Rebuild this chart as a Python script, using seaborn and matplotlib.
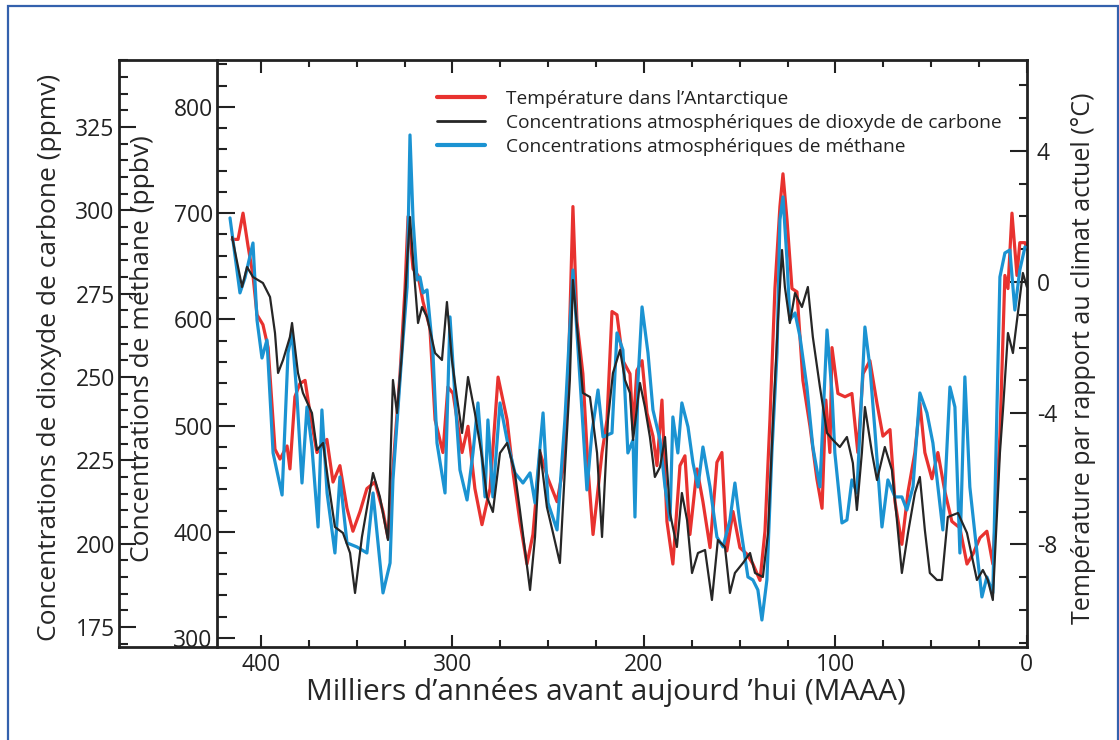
import matplotlib
matplotlib.use("Agg")
import pandas as pd
import seaborn as sns
import matplotlib.pyplot as plt
from matplotlib.lines import Line2D
from matplotlib.patches import Rectangle
from matplotlib.ticker import FixedLocator

# ---- donnees (milliers d'annees avant aujourd'hui) ---- #
age_temp = [415.1, 412.0, 409.4, 406.8, 404.2, 402.1, 399.0, 396.3, 392.7, 390.1,
            386.4, 384.9, 382.3, 379.7, 377.0, 374.4, 370.8, 365.6, 362.4, 358.8,
            355.1, 352.0, 348.3, 344.7, 340.5, 336.3, 333.7, 331.1, 327.4, 324.8,
            323.2, 320.6, 318.0, 315.4, 311.8, 309.1, 305.0, 302.4, 299.7, 295.0,
            291.9, 288.3, 284.6, 280.4, 276.2, 271.5, 268.4, 264.8, 261.1, 258.0,
            254.3, 250.1, 245.4, 242.3, 239.7, 237.1, 235.0, 231.9, 229.2, 226.6,
            221.9, 219.3, 216.7, 214.1, 211.0, 207.3, 205.7, 203.7, 201.0, 198.4,
            195.3, 193.2, 190.6, 188.0, 184.9, 181.2, 178.6, 176.0, 172.3, 169.2,
            165.5, 161.9, 159.3, 156.7, 153.5, 149.9, 146.2, 143.1, 139.4, 136.8,
            134.2, 131.6, 129.0, 127.4, 125.3, 122.7, 120.1, 117.0, 113.3, 109.7,
            107.0, 105.0, 102.9, 101.8, 98.7, 95.0, 91.4, 88.3, 85.6, 82.0,
            78.3, 75.2, 71.5, 68.9, 65.3, 62.1, 58.5, 55.9, 53.3, 49.6,
            46.5, 42.8, 39.2, 35.0, 31.3, 28.2, 24.5, 20.9, 17.8, 14.1,
            11.5, 9.9, 7.8, 5.2, 3.7, 1.0, 0.0]
temp = [1.3, 1.3, 2.1, 1.1, 0.2, -1.0, -1.3, -2.0, -5.1, -5.4,
        -5.0, -5.7, -3.5, -3.1, -3.0, -4.0, -5.2, -4.8, -6.1, -5.6,
        -6.9, -7.6, -7.0, -6.3, -6.1, -7.0, -7.8, -5.7, -2.8, -0.2,
        2.0, 0.4, 0.2, -0.6, -1.4, -4.2, -5.2, -3.2, -3.4, -5.2,
        -4.4, -6.3, -7.4, -6.3, -2.9, -4.2, -5.8, -7.3, -8.6, -7.7,
        -5.2, -6.0, -6.7, -5.7, -3.2, 2.3, -1.2, -2.8, -5.7, -7.7,
        -5.2, -4.2, -0.9, -1.0, -2.4, -2.8, -4.5, -2.7, -2.4, -4.0,
        -4.7, -5.6, -3.6, -7.3, -8.6, -5.6, -5.3, -7.7, -5.7, -6.7,
        -8.1, -5.5, -5.2, -8.2, -7.0, -8.1, -8.3, -8.6, -9.1, -7.6,
        -4.2, -0.2, 2.3, 3.3, 1.9, -0.2, -0.3, -3.0, -4.4, -6.0,
        -6.9, -3.6, -5.2, -2.0, -3.4, -3.5, -3.4, -5.2, -2.8, -2.4,
        -3.7, -4.7, -4.5, -6.7, -8.0, -6.4, -5.2, -3.7, -5.2, -6.0,
        -5.2, -6.4, -7.3, -7.5, -8.6, -8.3, -7.8, -7.6, -8.6, -4.7,
        0.2, -0.2, 2.1, 0.2, 1.2, 1.2, 1.0]

age_co2 = [415.1, 409.9, 407.3, 404.2, 399.0, 395.3, 392.7, 391.1, 388.5, 384.9,
           383.8, 380.7, 378.1, 373.4, 370.8, 367.6, 365.0, 361.4, 357.2, 353.5,
           350.9, 347.3, 341.5, 337.9, 333.7, 331.1, 329.0, 326.4, 323.7, 322.2,
           320.6, 318.0, 315.9, 313.3, 309.1, 305.5, 302.9, 300.3, 297.7, 295.0,
           291.9, 288.3, 284.6, 282.0, 278.9, 275.2, 271.5, 267.4, 264.8, 259.5,
           256.9, 254.3, 250.7, 247.5, 243.9, 241.3, 238.7, 237.1, 234.5, 231.9,
           228.2, 224.5, 221.9, 218.8, 216.2, 212.5, 209.9, 207.3, 205.7, 202.1,
           199.5, 196.9, 194.3, 191.6, 189.0, 186.4, 182.8, 180.2, 177.5, 174.9,
           171.8, 168.1, 164.5, 161.4, 157.7, 155.1, 152.5, 148.3, 144.6, 142.0,
           137.9, 135.2, 132.6, 130.0, 127.9, 126.4, 123.8, 121.1, 117.5, 114.4,
           111.8, 108.1, 104.4, 101.3, 97.7, 94.0, 90.9, 88.8, 86.2, 84.6,
           80.9, 78.3, 74.2, 70.5, 67.9, 65.3, 62.1, 58.5, 55.9, 53.3,
           50.7, 47.0, 44.4, 41.3, 36.0, 31.3, 26.1, 23.0, 20.4, 17.8,
           14.1, 12.5, 9.9, 7.3, 4.7, 2.1, 0.0]
co2 = [292.0, 277.0, 283.0, 280.0, 278.2, 274.0, 263.2, 251.2, 255.1, 262.0,
       266.2, 251.2, 245.2, 239.2, 228.1, 230.2, 219.1, 205.0, 203.2, 197.2,
       185.2, 202.0, 221.2, 214.0, 201.1, 249.1, 239.2, 257.2, 284.2, 298.0,
       285.1, 266.2, 271.0, 268.0, 257.2, 255.1, 272.5, 255.1, 244.0, 233.2,
       250.0, 239.2, 226.0, 214.0, 209.5, 227.2, 230.2, 221.2, 210.1, 186.1,
       202.0, 228.1, 211.0, 203.2, 194.2, 222.1, 249.1, 279.1, 262.0, 245.2,
       244.0, 227.2, 202.0, 237.1, 251.2, 258.1, 249.1, 245.2, 231.1, 248.2,
       241.0, 232.0, 220.0, 223.0, 232.0, 209.2, 199.0, 215.2, 207.1, 191.2,
       197.2, 198.1, 183.1, 201.1, 199.0, 185.2, 191.2, 194.2, 197.2, 191.2,
       190.0, 203.2, 237.1, 267.1, 288.1, 277.0, 266.2, 275.2, 271.0, 277.0,
       262.0, 247.0, 233.2, 231.1, 229.0, 232.0, 224.2, 210.1, 227.2, 241.0,
       227.2, 219.1, 229.0, 222.1, 207.1, 191.2, 203.2, 215.2, 220.0, 204.1,
       191.2, 189.1, 189.1, 208.0, 209.2, 203.2, 189.1, 192.1, 189.1, 183.1,
       227.2, 240.1, 263.2, 257.2, 269.2, 281.2, 277.0]

age_ch4 = [416.2, 411.0, 408.4, 404.2, 402.1, 399.5, 396.9, 393.7, 389.0, 385.9,
           383.8, 381.2, 378.6, 376.0, 373.4, 370.2, 368.2, 365.5, 361.4, 358.8,
           355.1, 349.9, 344.7, 341.5, 336.3, 332.6, 331.1, 326.4, 323.7, 322.2,
           320.6, 318.5, 317.0, 315.4, 313.3, 310.2, 308.1, 303.9, 301.3, 298.7,
           296.1, 292.4, 289.3, 286.7, 283.0, 281.5, 278.9, 275.2, 271.5, 267.4,
           263.2, 259.5, 256.9, 252.7, 250.1, 245.4, 241.3, 237.1, 233.4, 229.8,
           227.2, 224.0, 221.4, 216.7, 214.1, 211.0, 208.4, 205.7, 204.7, 203.1,
           201.0, 197.9, 195.3, 191.6, 189.0, 186.4, 184.9, 182.3, 180.2, 177.0,
           174.4, 171.8, 169.2, 165.5, 161.9, 158.7, 155.1, 152.5, 149.9, 145.7,
           143.1, 140.5, 138.4, 135.8, 133.2, 130.5, 129.0, 127.4, 125.3, 123.8,
           121.1, 118.5, 114.9, 111.8, 108.1, 104.4, 101.8, 100.3, 96.6, 94.0,
           91.4, 88.8, 84.6, 82.0, 79.4, 75.7, 72.6, 68.9, 65.3, 62.7,
           59.5, 55.9, 52.2, 49.1, 46.5, 43.9, 40.2, 37.6, 35.0, 32.4,
           29.8, 27.2, 23.5, 20.9, 17.8, 14.1, 11.5, 8.9, 6.3, 3.7, 1.0]
ch4 = [695.5, 624.9, 639.0, 671.9, 599.4, 563.6, 580.6, 474.2, 434.6, 568.4,
       587.2, 526.9, 445.9, 517.5, 479.8, 404.5, 514.7, 436.5, 380.0, 451.6,
       389.5, 385.7, 380.0, 436.5, 342.4, 370.6, 448.8, 568.4, 630.5, 773.6,
       693.6, 637.1, 639.9, 624.9, 627.7, 568.4, 483.6, 436.5, 602.3, 526.9,
       458.2, 429.9, 474.2, 521.3, 432.8, 505.3, 432.8, 521.3, 486.4, 455.4,
       445.9, 455.4, 427.1, 511.9, 427.1, 401.7, 505.3, 646.5, 542.9, 439.4,
       493.0, 533.5, 489.3, 493.0, 587.2, 571.2, 474.2, 486.4, 413.9, 542.9,
       611.7, 568.4, 514.7, 486.4, 442.2, 411.1, 508.1, 474.2, 521.3, 498.7,
       464.8, 442.2, 479.8, 442.2, 395.1, 385.7, 411.1, 445.9, 408.3, 357.4,
       354.6, 345.2, 316.9, 354.6, 474.2, 568.4, 693.6, 715.3, 655.9, 599.4,
       606.0, 583.4, 536.3, 479.8, 442.2, 590.0, 530.7, 474.2, 408.3, 411.1,
       448.8, 436.5, 592.8, 555.2, 495.9, 404.5, 448.8, 432.8, 432.8, 420.5,
       442.2, 530.7, 511.9, 483.6, 442.2, 401.7, 536.3, 517.5, 380.0, 545.8,
       442.2, 398.9, 338.6, 357.4, 342.4, 639.9, 662.5, 665.3, 608.8, 646.5, 668.2]

co2_ticks = [175, 200, 225, 250, 275, 300, 325]
ch4_ticks = [300, 400, 500, 600, 700, 800]
temp_ticks = [-8, -4, 0, 4]
age_ticks = [0, 100, 200, 300, 400]

legend_labels = ["Température dans l’Antarctique",
                 "Concentrations atmosphériques de dioxyde de carbone",
                 "Concentrations atmosphériques de méthane"]

RED, BLACK, BLUE = "#e8322f", "#262626", "#1b93d2"
INK = "#222222"

sns.set_style("ticks")
plt.rcParams['font.family'] = ['Open Sans', 'DejaVu Sans']
plt.rcParams['axes.unicode_minus'] = False
plt.rcParams['axes.edgecolor'] = INK
plt.rcParams['xtick.color'] = INK
plt.rcParams['ytick.color'] = INK
plt.rcParams['text.color'] = INK

fig = plt.figure(figsize=(11.19, 7.40), dpi=100, facecolor="white")
ax = fig.add_axes([0.1063, 0.1257, 0.8114, 0.7932])   # CO2, axe de gauche
ax_t = ax.twinx()                                      # temperature, axe de droite
ax_m = ax.twinx()                                      # methane, axe interieur

# ordre de dessin : rouge, puis bleu, puis noir
ax_t.set_zorder(1)
ax_m.set_zorder(2)
ax.set_zorder(3)
ax.patch.set_visible(False)

df_t = pd.DataFrame({"age": age_temp, "val": temp})
df_c = pd.DataFrame({"age": age_co2, "val": co2})
df_m = pd.DataFrame({"age": age_ch4, "val": ch4})

sns.lineplot(data=df_t, x="age", y="val", ax=ax_t, color=RED, linewidth=2.3,
             estimator=None, sort=False)
sns.lineplot(data=df_m, x="age", y="val", ax=ax_m, color=BLUE, linewidth=2.3,
             estimator=None, sort=False)
sns.lineplot(data=df_c, x="age", y="val", ax=ax, color=BLACK, linewidth=1.6,
             estimator=None, sort=False)

ax.set_xlim(474.2, 0)
ax.set_ylim(169.0, 345.1)
ax_m.set_ylim(291.5, 844.2)
ax_t.set_ylim(-11.13, 6.77)

TICK_FS = 16.5

# ------ axe des ages ------ #
ax.xaxis.set_major_locator(FixedLocator(age_ticks))
ax.xaxis.set_minor_locator(FixedLocator([a for a in range(25, 400, 25) if a % 100]))
ax.tick_params(axis="x", which="both", direction="in", top=True, bottom=True,
               width=1.5, labelsize=TICK_FS, pad=4)
ax.tick_params(axis="x", which="major", length=9)
ax.tick_params(axis="x", which="minor", length=5)

# ------ axe CO2 ------ #
ax.yaxis.set_major_locator(FixedLocator(co2_ticks))
ax.yaxis.set_minor_locator(FixedLocator([v for v in range(170, 346, 5) if v % 25]))
ax.tick_params(axis="y", which="both", direction="in", width=1.5, labelsize=TICK_FS, pad=3)
ax.tick_params(axis="y", which="major", length=12)
ax.tick_params(axis="y", which="minor", length=6.5)
ax.spines["right"].set_visible(False)

# ------ axe methane ------ #
ax_m.spines["left"].set_visible(True)
ax_m.spines["left"].set_position(("axes", 0.1079))
for s in ["right", "top", "bottom"]:
    ax_m.spines[s].set_visible(False)
ax_m.yaxis.tick_left()
ax_m.yaxis.set_major_locator(FixedLocator(ch4_ticks))
ax_m.yaxis.set_minor_locator(FixedLocator([v for v in range(300, 841, 20) if v % 100]))
ax_m.tick_params(axis="y", which="both", direction="in", width=1.5, labelsize=TICK_FS, pad=3)
ax_m.tick_params(axis="y", which="major", length=13)
ax_m.tick_params(axis="y", which="minor", length=7)

# ------ axe temperature ------ #
for s in ["left", "top", "bottom"]:
    ax_t.spines[s].set_visible(False)
ax_t.yaxis.set_major_locator(FixedLocator(temp_ticks))
ax_t.yaxis.set_minor_locator(FixedLocator([v for v in range(-11, 7) if v % 4]))
ax_t.tick_params(axis="y", which="both", direction="in", width=1.5, labelsize=TICK_FS, pad=7)
ax_t.tick_params(axis="y", which="major", length=12)
ax_t.tick_params(axis="y", which="minor", length=6)

for a in (ax, ax_t, ax_m):
    for s in a.spines.values():
        s.set_linewidth(2.0)

# ------ titres des axes ------ #
ax.set_xlabel("Milliers d’années avant aujourd ’hui (MAAA)", fontsize=21.5,
              ha="center", va="center")
ax.xaxis.set_label_coords(0.536, -0.077)
ax.set_ylabel("Concentrations de dioxyde de carbone (ppmv)", fontsize=19,
              ha="center", va="center")
ax.yaxis.set_label_coords(-0.076, 0.494)
ax_m.set_ylabel("Concentrations de méthane (ppbv)", fontsize=19,
                ha="center", va="center")
ax_m.yaxis.set_label_position("left")
ax_m.yaxis.set_label_coords(0.04, 0.508)
ax_t.set_ylabel("Température par rapport au climat actuel (°C)", fontsize=18,
                ha="center", va="center")
ax_t.yaxis.set_label_coords(1.062, 0.492)

# ------ legende ------ #
handles = [Line2D([], [], color=RED, lw=3),
           Line2D([], [], color=BLACK, lw=2),
           Line2D([], [], color=BLUE, lw=3)]
fig.legend(handles, legend_labels, loc="upper left",
           bbox_to_anchor=(437 / 1119, 1 - 90 / 740), frameon=False,
           fontsize=13.8, handlelength=2.5, handletextpad=1.1,
           labelspacing=0.31, borderpad=0, borderaxespad=0)

# cadre bleu autour de la figure
fig.patches.append(Rectangle((8 / 1119, -0.01), 1110 / 1119, 1 - 6 / 740 + 0.01,
                             transform=fig.transFigure, fill=False,
                             edgecolor="#3461ad", linewidth=1.6))

fig.savefig("out.png", dpi=100, facecolor="white")
